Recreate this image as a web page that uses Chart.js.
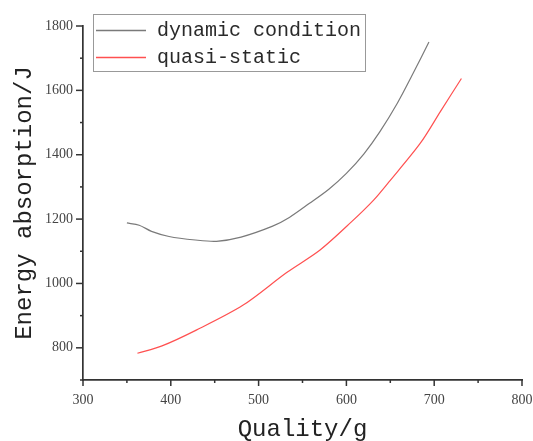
<!DOCTYPE html>
<html>
<head>
<meta charset="utf-8">
<script src="https://cdn.jsdelivr.net/npm/chart.js@4/dist/chart.umd.min.js"></script>
<style>
  html, body { margin: 0; padding: 0; background: #fff; }
  #wrap { width: 533px; height: 441px; }
</style>
</head>
<body>
<div id="wrap"><canvas id="c" width="533" height="441"></canvas></div>
<script>
// ---- data ----
const seriesNames = ['dynamic condition', 'quasi-static'];
const dynamicX = [350, 364, 378, 398, 428, 452, 480, 516, 535, 558, 580, 600, 620, 638, 658, 676, 694];
const dynamicY = [1188, 1181, 1162, 1146, 1135, 1131, 1144, 1178, 1205, 1249, 1293, 1342, 1403, 1471, 1560, 1653, 1750];
const quasiX = [362, 390, 429, 482, 532, 570, 606, 631, 648, 684, 707, 731];
const quasiY = [783, 806, 855, 932, 1034, 1104, 1192, 1259, 1314, 1435, 1534, 1637];
const xTickValues = [300, 400, 500, 600, 700, 800];
const yTickValues = [800, 1000, 1200, 1400, 1600, 1800];
const xTitle = 'Quality/g';
const yTitle = 'Energy absorption/J';
const seriesColors = ['#7a7a7a', '#ff5050'];

const toPoints = (xs, ys) => xs.map((x, i) => ({ x: x, y: ys[i] }));

const AXIS_COLOR = '#333333';
const TICK_FONT = { family: '"Liberation Serif", "Times New Roman", serif', size: 14 };
const TITLE_FONT = { family: '"Liberation Mono", "DejaVu Sans Mono", monospace', size: 24, lineHeight: 1 };

// draw outward major/minor tick marks via the scales
const tickMarks = {
  id: 'tickMarks',
  afterDraw(chart) {
    const ctx = chart.ctx;
    ctx.save();
    ctx.strokeStyle = AXIS_COLOR;
    ctx.lineWidth = 1.5;
    const xs = chart.scales.x, ys = chart.scales.y;
    const area = chart.chartArea;
    xs.ticks.forEach(t => {
      const px = xs.getPixelForValue(t.value);
      const major = xTickValues.includes(t.value);
      const len = major ? 6 : 3;
      ctx.beginPath();
      ctx.moveTo(px, area.bottom);
      ctx.lineTo(px, area.bottom + len);
      ctx.stroke();
    });
    ys.ticks.forEach(t => {
      const py = ys.getPixelForValue(t.value);
      const major = yTickValues.includes(t.value);
      const len = major ? 7 : 3;
      ctx.beginPath();
      ctx.moveTo(area.left, py);
      ctx.lineTo(area.left - len, py);
      ctx.stroke();
    });
    ctx.restore();
  }
};

// boxed legend in the top-left corner
const boxLegend = {
  id: 'boxLegend',
  afterDraw(chart) {
    const ctx = chart.ctx;
    ctx.save();
    ctx.strokeStyle = '#999999';
    ctx.lineWidth = 1;
    ctx.strokeRect(93.5, 14.5, 272, 57);
    ctx.font = '20px "Liberation Mono", "DejaVu Sans Mono", monospace';
    ctx.textBaseline = 'middle';
    ctx.textAlign = 'left';
    const rows = [30, 57];
    seriesNames.forEach((name, i) => {
      ctx.strokeStyle = seriesColors[i];
      ctx.lineWidth = 1.3;
      ctx.beginPath();
      ctx.moveTo(96, rows[i] + 0.5);
      ctx.lineTo(146, rows[i] + 0.5);
      ctx.stroke();
      ctx.fillStyle = '#2a2a2a';
      ctx.fillText(name, 157, rows[i] + 1);
    });
    ctx.restore();
  }
};

new Chart(document.getElementById('c'), {
  type: 'line',
  data: {
    datasets: [
      {
        label: seriesNames[0],
        data: toPoints(dynamicX, dynamicY),
        borderColor: seriesColors[0],
        borderWidth: 1.2,
        pointRadius: 0,
        tension: 0.3,
        fill: false
      },
      {
        label: seriesNames[1],
        data: toPoints(quasiX, quasiY),
        borderColor: seriesColors[1],
        borderWidth: 1.2,
        pointRadius: 0,
        tension: 0.3,
        fill: false
      }
    ]
  },
  options: {
    responsive: false,
    animation: false,
    layout: { padding: { top: 26, right: 0, left: 0, bottom: 0 } },
    plugins: {
      legend: { display: false },
      tooltip: { enabled: false }
    },
    scales: {
      x: {
        type: 'linear',
        min: 300,
        max: 800,
        grid: { drawOnChartArea: false, drawTicks: false },
        border: { display: true, color: AXIS_COLOR, width: 1.7 },
        ticks: {
          stepSize: 50,
          autoSkip: false,
          maxRotation: 0,
          padding: 12,
          color: '#444444',
          font: TICK_FONT,
          callback: v => (xTickValues.includes(v) ? String(v) : '')
        },
        title: { display: true, text: xTitle, color: '#222222', font: TITLE_FONT, padding: { top: 0, bottom: -1 } },
        afterFit: s => { s.height = 61; s.paddingRight = 11; s.paddingLeft = 0; }
      },
      y: {
        type: 'linear',
        min: 700,
        max: 1800,
        grid: { drawOnChartArea: false, drawTicks: false },
        border: { display: true, color: AXIS_COLOR, width: 1.7 },
        ticks: {
          stepSize: 100,
          autoSkip: false,
          padding: 10,
          color: '#444444',
          font: TICK_FONT,
          callback: v => (yTickValues.includes(v) ? String(v) : '')
        },
        title: { display: true, text: yTitle, color: '#222222', font: TITLE_FONT, padding: { top: 13, bottom: 0 } },
        afterFit: s => { s.width = 83; s.paddingTop = 0; s.paddingBottom = 0; }
      }
    }
  },
  plugins: [tickMarks, boxLegend]
});
</script>
</body>
</html>
